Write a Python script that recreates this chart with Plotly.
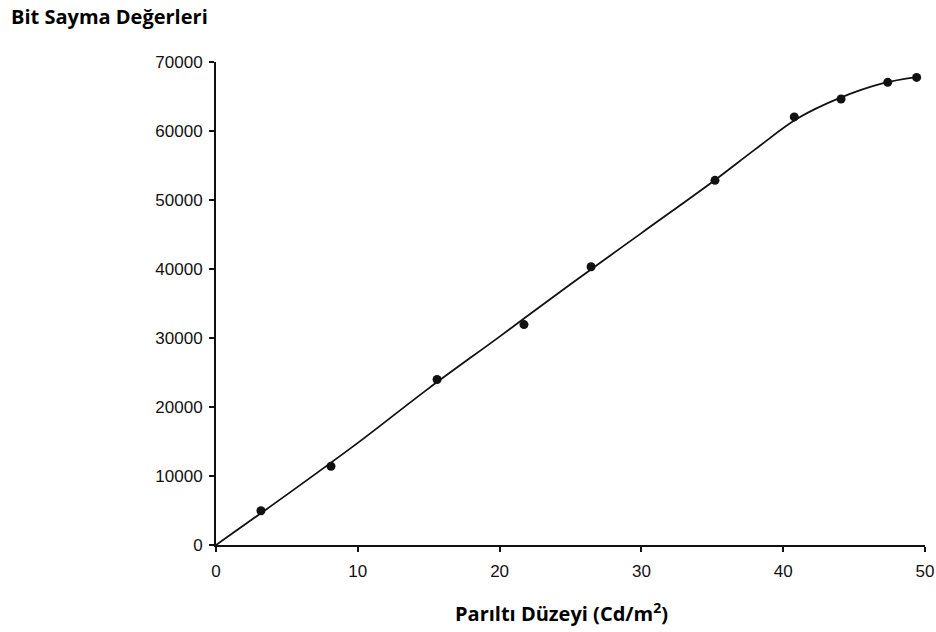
import plotly.graph_objects as go

# Measured points (luminance level Cd/m^2, bit count values)
lum_points = [3.17, 8.11, 15.59, 21.72, 26.45, 35.19, 40.78, 44.08, 47.37, 49.41]
count_points = [4960, 11420, 23990, 31940, 40320, 52850, 62040, 64640, 67050, 67770]

# Fitted curve
curve_x = [0, 5, 10, 15, 20, 25, 30, 35, 38, 41, 44, 47, 49.4]
curve_y = [0, 7300, 14800, 22700, 30200, 37800, 45200, 52600, 57300, 61800, 64800, 66900, 67800]

x_ticks = [0, 10, 20, 30, 40, 50]
y_ticks = [0, 10000, 20000, 30000, 40000, 50000, 60000, 70000]

fig = go.Figure()
fig.add_trace(go.Scatter(x=curve_x, y=curve_y, mode="lines",
                         line=dict(color="#111", width=1.8, shape="spline", smoothing=1.0),
                         hoverinfo="skip", showlegend=False))
fig.add_trace(go.Scatter(x=lum_points, y=count_points, mode="markers",
                         marker=dict(color="#111", size=9),
                         showlegend=False))

axis_common = dict(showgrid=False, zeroline=False, showline=True, linecolor="#111",
                   linewidth=2, ticks="outside", ticklen=5, tickwidth=1.5, tickcolor="#111",
                   automargin=False,
                   tickfont=dict(family="Liberation Sans", size=17, color="#111"))

fig.update_xaxes(range=[0, 50], tickvals=x_ticks, ticktext=[str(v) for v in x_ticks],
                 ticklabelstandoff=5, **axis_common)
fig.update_yaxes(range=[0, 70000], tickvals=y_ticks, ticktext=[str(v) for v in y_ticks],
                 ticklabelstandoff=3, **axis_common)

fig.update_layout(
    width=936, height=632,
    margin=dict(l=216, r=11, t=62, b=87),
    plot_bgcolor="white", paper_bgcolor="white",
    annotations=[
        dict(text="<b>Bit Sayma Değerleri</b>", xref="paper", yref="paper",
             x=-207/709, y=1 + 45/483, xanchor="left", yanchor="middle", showarrow=False,
             font=dict(family="Open Sans", size=20, color="#000")),
        dict(text="<b>Parıltı Düzeyi (Cd/m<sup>2</sup>)</b>", xref="paper", yref="paper",
             x=(561-216)/709, y=-67/483, xanchor="center", yanchor="middle", showarrow=False,
             font=dict(family="Open Sans", size=20, color="#000")),
    ],
)

fig.write_html("out.html")
